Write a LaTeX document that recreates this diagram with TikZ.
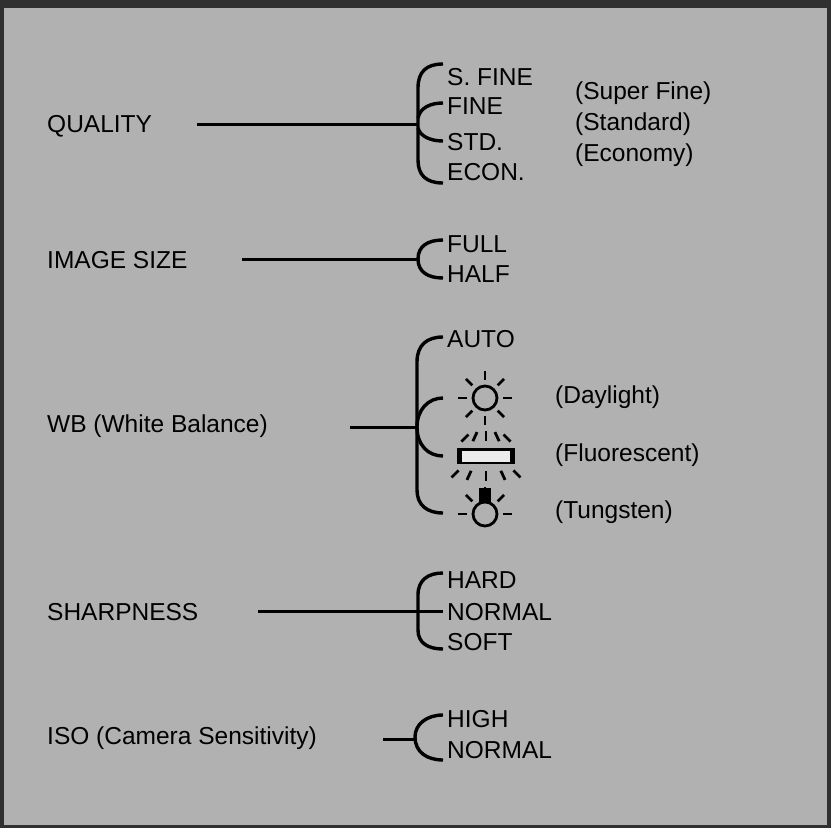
\documentclass[tikz,border=0pt]{standalone}
\usepackage{fontspec}
\setmainfont{Liberation Sans}
\usetikzlibrary{calc}
\definecolor{frame}{HTML}{303030}
\definecolor{bg}{HTML}{B1B1B1}
\begin{document}
\begin{tikzpicture}[x=1pt,y=-1pt,
  lbl/.style={anchor=west,inner sep=0pt,font=\fontsize{24.5}{27}\selectfont},
  ln/.style={line width=3pt},
  br/.style={line width=3.4pt},
  ray/.style={line width=2.8pt}]
\useasboundingbox (0,0) rectangle (831,828);
\fill[frame] (0,0) rectangle (831,828);
\fill[bg] (4,8) rectangle (827,825);
% QUALITY
\node[lbl] (q) at (47,126) {QUALITY};
\coordinate (qb) at (418,124);
\draw[ln] (197,124) -- (qb);
\draw[br] (443,64) .. controls (426,64) and (418,72) .. (418,88) -- (418,160) .. controls (418,175) and (426,183) .. (443,183);
\draw[br] (418,118) .. controls (420,108) and (430,103) .. (443,103);
\draw[br] (418,128) .. controls (420,136) and (430,141) .. (443,141);
\node[lbl] (q1) at (447,77) {S. FINE};
\node[lbl] (q2) at (447,106) {FINE};
\node[lbl] (q3) at (447,142) {STD.};
\node[lbl] (q4) at (447,172) {ECON.};
\node[lbl] (q5) at (575,93) {(Super Fine)};
\node[lbl] (q6) at (575,124) {(Standard)};
\node[lbl] (q7) at (575,155) {(Economy)};
% IMAGE SIZE
\node[lbl] (is) at (47,260) {IMAGE SIZE};
\draw[ln] (242,259) -- (418,259);
\draw[br] (443,240) .. controls (428,240) and (418,246) .. (418,259) .. controls (418,272) and (428,278) .. (443,278);
\node[lbl] (is1) at (447,244) {FULL};
\node[lbl] (is2) at (447,274) {HALF};
% WB
\node[lbl] (wb) at (47,426) {WB (White Balance)};
\draw[ln] (350,427) -- (417,427);
\draw[br] (443,337) .. controls (427,337) and (417,345) .. (417,362) -- (417,490) .. controls (417,505) and (427,513) .. (443,513);
\draw[br] (417,427) .. controls (417,410) and (428,398) .. (443,398);
\draw[br] (417,427) .. controls (417,445) and (428,456) .. (443,456);
\node[lbl] (wb1) at (447,339) {AUTO};
% sun
\coordinate (sun) at (485,398);
\draw[line width=2.8pt] (sun) circle (12);
\foreach \a in {0,45,...,315} \draw[ray] ($(sun)+(\a:18)$) -- ($(sun)+(\a:27)$);
% fluorescent
\fill[black] (457,448) rectangle (515,464);
\fill[white!85!gray] (462,450.5) rectangle (510,461.5);
\coordinate (fl) at (486,456);
\foreach \dx/\ang in {0/90,-14/115,14/65,-26/135,26/45} {
  \draw[ray] ($(fl)+(\dx,-13)+(\ang:-2)$) -- ($(fl)+(\dx,-13)+(\ang:-12)$);
  \draw[ray] ($(fl)+(\dx,13)+(\ang:2)$) -- ($(fl)+(\dx,13)+(\ang:12)$);
}
% tungsten
\coordinate (tu) at (485,514);
\draw[line width=2.8pt] (tu) circle (12);
\fill[black] (479,488) rectangle (491,502);
\foreach \a in {0,180,225,270,315} \draw[ray] ($(tu)+(\a:18)$) -- ($(tu)+(\a:27)$);
\node[lbl] (wb2) at (555,397) {(Daylight)};
\node[lbl] (wb3) at (555,455) {(Fluorescent)};
\node[lbl] (wb4) at (555,512) {(Tungsten)};
% SHARPNESS
\node[lbl] (sh) at (47,612) {SHARPNESS};
\draw[ln] (258,611) -- (443,611);
\draw[br] (443,573) .. controls (428,573) and (418,580) .. (418,595) -- (418,630) .. controls (418,643) and (428,649) .. (443,649);
\node[lbl] (sh1) at (447,580) {HARD};
\node[lbl] (sh2) at (447,612) {NORMAL};
\node[lbl] (sh3) at (447,642) {SOFT};
% ISO
\node[lbl] (iso) at (47,738) {ISO (Camera Sensitivity)};
\draw[ln] (383,739) -- (415,739);
\draw[br] (443,715) .. controls (427,715) and (415,724) .. (415,737) .. controls (415,752) and (427,760) .. (443,760);
\node[lbl] (iso1) at (447,719) {HIGH};
\node[lbl] (iso2) at (447,750) {NORMAL};
\end{tikzpicture}
\end{document}
